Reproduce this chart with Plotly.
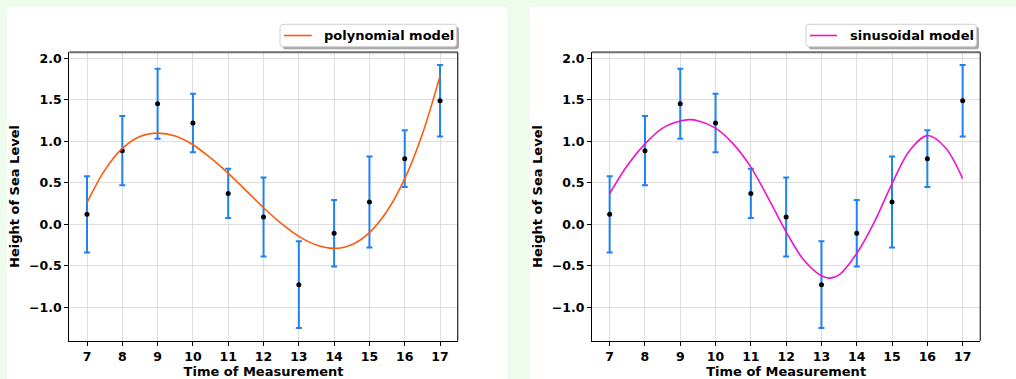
import plotly.graph_objects as go

# Measurements
time = [7, 8, 9, 10, 11, 12, 13, 14, 15, 16, 17]
height = [0.120, 0.888, 1.454, 1.221, 0.373, 0.088, -0.727, -0.108, 0.269, 0.791, 1.490]
height_err = [0.461, 0.417, 0.421, 0.352, 0.298, 0.476, 0.522, 0.400, 0.548, 0.342, 0.430]

# Fitted polynomial model, sampled along the time axis
poly_t = [7, 7.5, 8, 8.5, 9, 9.5, 10, 10.5, 11, 11.5, 12, 12.5, 13, 13.5, 14,
          14.5, 15, 15.5, 16, 16.5, 17]
poly_y = [0.26, 0.65, 0.915, 1.06, 1.10, 1.065, 0.96, 0.80, 0.615, 0.41, 0.20,
          0.012, -0.145, -0.25, -0.29, -0.245, -0.10, 0.16, 0.55, 1.09, 1.79]

# Fitted sinusoidal model, sampled along the time axis
sin_t = [7, 7.5, 8, 8.5, 9, 9.25, 9.5, 10, 10.5, 11, 11.5, 12, 12.5, 13, 13.25,
         13.5, 14, 14.5, 15, 15.5, 16, 16.5, 17]
sin_y = [0.37, 0.71, 0.97, 1.16, 1.245, 1.262, 1.25, 1.16, 0.97, 0.69, 0.31, -0.09,
         -0.43, -0.62, -0.648, -0.61, -0.35, 0.03, 0.49, 0.89, 1.07, 0.93, 0.55]

x_ticks = [7, 8, 9, 10, 11, 12, 13, 14, 15, 16, 17]
y_ticks = [-1.0, -0.5, 0.0, 0.5, 1.0, 1.5, 2.0]

W, H = 1016, 379
BG = "#EEFCEE"
ERR_BLUE = "#1E82F0"
POLY_COLOR = "#FF5A0A"
SIN_COLOR = "#F014C8"
FONT = "DejaVu Sans"


def fx(x):
    return x / W


def fy(y):
    return 1 - y / H


def rounded_rect(x0, y0, x1, y1, r):
    rx, ry = r / W, r / H
    a, b, c, d = fx(x0), fy(y1), fx(x1), fy(y0)  # a<c, b<d
    return (f"M {a+rx},{b} L {c-rx},{b} Q {c},{b} {c},{b+ry} "
            f"L {c},{d-ry} Q {c},{d} {c-rx},{d} L {a+rx},{d} "
            f"Q {a},{d} {a},{d-ry} L {a},{b+ry} Q {a},{b} {a+rx},{b} Z")


panels = [
    # (plot left, plot right, model x, model y, colour, name, legend box, line sample, text x)
    dict(left=69.35, right=457.7, mt=poly_t, my=poly_y, color=POLY_COLOR,
         name="polynomial model", box=(280, 24.3, 456.5, 46.7), line=(284, 311.7),
         text_x=321.5, bg=(7, 507)),
    dict(left=592.0, right=980.3, mt=sin_t, my=sin_y, color=SIN_COLOR,
         name="sinusoidal model", box=(806, 24.3, 976.5, 46.7), line=(810, 837),
         text_x=848, bg=(530, 1016)),
]

fig = go.Figure()
shapes = []
annotations = []
plot_top, plot_bottom = 52.3, 340.7

for i, p in enumerate(panels):
    xa = "x" if i == 0 else "x2"
    ya = "y" if i == 0 else "y2"
    fig.add_trace(go.Scatter(
        x=time, y=height, mode="markers", xaxis=xa, yaxis=ya,
        marker=dict(color="black", size=5),
        error_y=dict(type="data", array=height_err, color=ERR_BLUE,
                     thickness=2, width=3),
        showlegend=False, hoverinfo="x+y",
    ))
    fig.add_trace(go.Scatter(
        x=p["mt"], y=p["my"], mode="lines", xaxis=xa, yaxis=ya,
        line=dict(color=p["color"], width=1.6, shape="spline", smoothing=1),
        name=p["name"], showlegend=False,
    ))

    axis_common = dict(
        showgrid=True, gridcolor="#DEDEDE", gridwidth=1, zeroline=False,
        showline=True, linecolor="black", linewidth=1.3,
        ticks="outside", ticklen=4, tickwidth=1, tickcolor="black",
        tickfont=dict(family=FONT, size=12.5, color="black", weight="bold"),
    )
    xdom = [fx(p["left"]), fx(p["right"])]
    ydom = [fy(plot_bottom), fy(plot_top)]
    xkey = "xaxis" if i == 0 else "xaxis2"
    ykey = "yaxis" if i == 0 else "yaxis2"
    fig.update_layout(**{
        xkey: dict(axis_common, domain=xdom, range=[6.5, 17.5],
                   tickvals=x_ticks, anchor=ya,
                   title=dict(text="Time of Measurement", standoff=2,
                              font=dict(family=FONT, size=13, color="black", weight="bold"))),
        ykey: dict(axis_common, domain=ydom, range=[-1.403, 2.074],
                   tickvals=y_ticks, tickformat=".1f", anchor=xa,
                   title=dict(text="Height of Sea Level", standoff=6,
                              font=dict(family=FONT, size=13, color="black", weight="bold"))),
    })

    # white panel behind each subplot
    shapes.append(dict(type="rect", xref="paper", yref="paper",
                       x0=fx(p["bg"][0]), x1=fx(p["bg"][1]), y0=0, y1=fy(7),
                       fillcolor="white", line=dict(width=0), layer="below"))
    # top and right frame edges
    xd = "x domain" if i == 0 else "x2 domain"
    yd = "y domain" if i == 0 else "y2 domain"
    shapes.append(dict(type="line", xref=xd, yref=yd, x0=0, x1=1, y0=1, y1=1,
                       line=dict(color="#6E6E6E", width=2)))
    shapes.append(dict(type="line", xref=xd, yref=yd, x0=1, x1=1, y0=0, y1=1,
                       line=dict(color="#333333", width=1.3)))

    # legend box with drop shadow
    bx0, by0, bx1, by1 = p["box"]
    shapes.append(dict(type="path", xref="paper", yref="paper",
                       path=rounded_rect(bx0 + 2.5, by0 + 2.5, bx1 + 2.5, by1 + 2.5, 3),
                       fillcolor="#A8A8A8", line=dict(width=0)))
    shapes.append(dict(type="path", xref="paper", yref="paper",
                       path=rounded_rect(bx0, by0, bx1, by1, 3),
                       fillcolor="white", line=dict(color="#D0D0D0", width=1)))
    ly = (by0 + by1) / 2
    shapes.append(dict(type="line", xref="paper", yref="paper",
                       x0=fx(p["line"][0]), x1=fx(p["line"][1]), y0=fy(ly), y1=fy(ly),
                       line=dict(color=p["color"], width=1.6)))
    annotations.append(dict(xref="paper", yref="paper", x=fx(p["text_x"]), y=fy(ly),
                            xanchor="left", yanchor="middle", showarrow=False,
                            text=p["name"],
                            font=dict(family=FONT, size=13, color="black", weight="bold")))

fig.update_layout(
    width=W, height=H, margin=dict(l=0, r=0, t=0, b=0),
    paper_bgcolor=BG, plot_bgcolor="white",
    shapes=shapes, annotations=annotations, showlegend=False,
)

fig.write_html("out.html")
